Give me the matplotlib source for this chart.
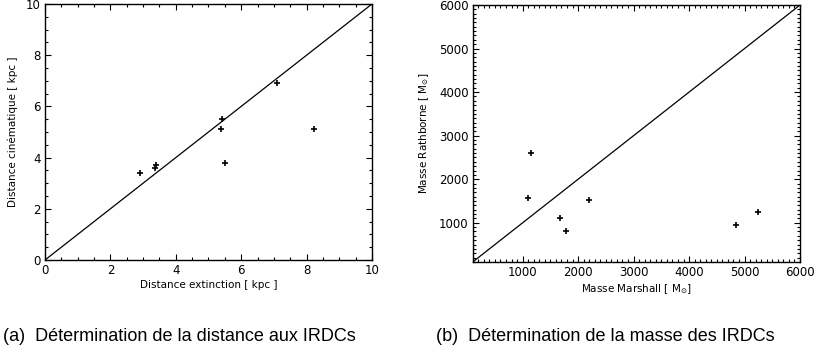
import matplotlib
matplotlib.use("Agg")
import matplotlib.pyplot as plt
from matplotlib.ticker import MultipleLocator

# (a) distances in kpc
dist_ext = [2.9, 3.35, 3.4, 5.4, 5.38, 5.5, 7.08, 8.22]
dist_cin = [3.4, 3.6, 3.7, 5.5, 5.1, 3.8, 6.9, 5.1]

# (b) masses in solar masses
mass_marshall = [1090, 1150, 1680, 1790, 2190, 4840, 5250]
mass_rathborne = [1580, 2610, 1100, 800, 1520, 940, 1250]

caption_a = "(a)  Détermination de la distance aux IRDCs"
caption_b = "(b)  Détermination de la masse des IRDCs"

TICK_FS = 8.5
LABEL_FS = 7.5


def style_axes(ax, major, minor):
    ax.xaxis.set_major_locator(MultipleLocator(major))
    ax.xaxis.set_minor_locator(MultipleLocator(minor))
    ax.yaxis.set_major_locator(MultipleLocator(major))
    ax.yaxis.set_minor_locator(MultipleLocator(minor))
    ax.tick_params(which="both", direction="in", top=True, right=True,
                   labelsize=TICK_FS, width=0.8, pad=3)
    ax.tick_params(which="major", length=4.5)
    ax.tick_params(which="minor", length=2.5)
    for sp in ax.spines.values():
        sp.set_linewidth(1.0)


fig = plt.figure(figsize=(8.17, 3.51), dpi=100)

ax1 = fig.add_axes([0.0551, 0.2593, 0.4002, 0.7293])
ax1.plot([0, 10], [0, 10], color="black", lw=0.9)
ax1.plot(dist_ext, dist_cin, "+", color="black", ms=5, mew=1.2)
ax1.set_xlim(0, 10)
ax1.set_ylim(0, 10)
style_axes(ax1, 2, 0.5)
ax1.set_xlabel("Distance extinction [ kpc ]", fontsize=LABEL_FS, labelpad=2)
ax1.set_ylabel("Distance cinématique [ kpc ]", fontsize=LABEL_FS, labelpad=6)

ax2 = fig.add_axes([0.5786, 0.2536, 0.4006, 0.7322])
ax2.plot([100, 6000], [100, 6000], color="black", lw=0.9)
ax2.plot(mass_marshall, mass_rathborne, "+", color="black", ms=5, mew=1.2)
ax2.set_xlim(100, 6000)
ax2.set_ylim(100, 6000)
style_axes(ax2, 1000, 100)
ax2.set_xlabel(r"Masse Marshall [ M$_{\odot}$]", fontsize=LABEL_FS, labelpad=2)
ax2.set_ylabel(r"Masse Rathborne [ M$_{\odot}$]", fontsize=LABEL_FS, labelpad=6)

# sub-figure captions
fig.text(3 / 817, 1 - 341 / 351, caption_a, ha="left", va="baseline",
         fontsize=13, family="Liberation Sans")
fig.text(436 / 817, 1 - 341 / 351, caption_b, ha="left", va="baseline",
         fontsize=13, family="Liberation Sans")

fig.savefig("out.png", dpi=100)
